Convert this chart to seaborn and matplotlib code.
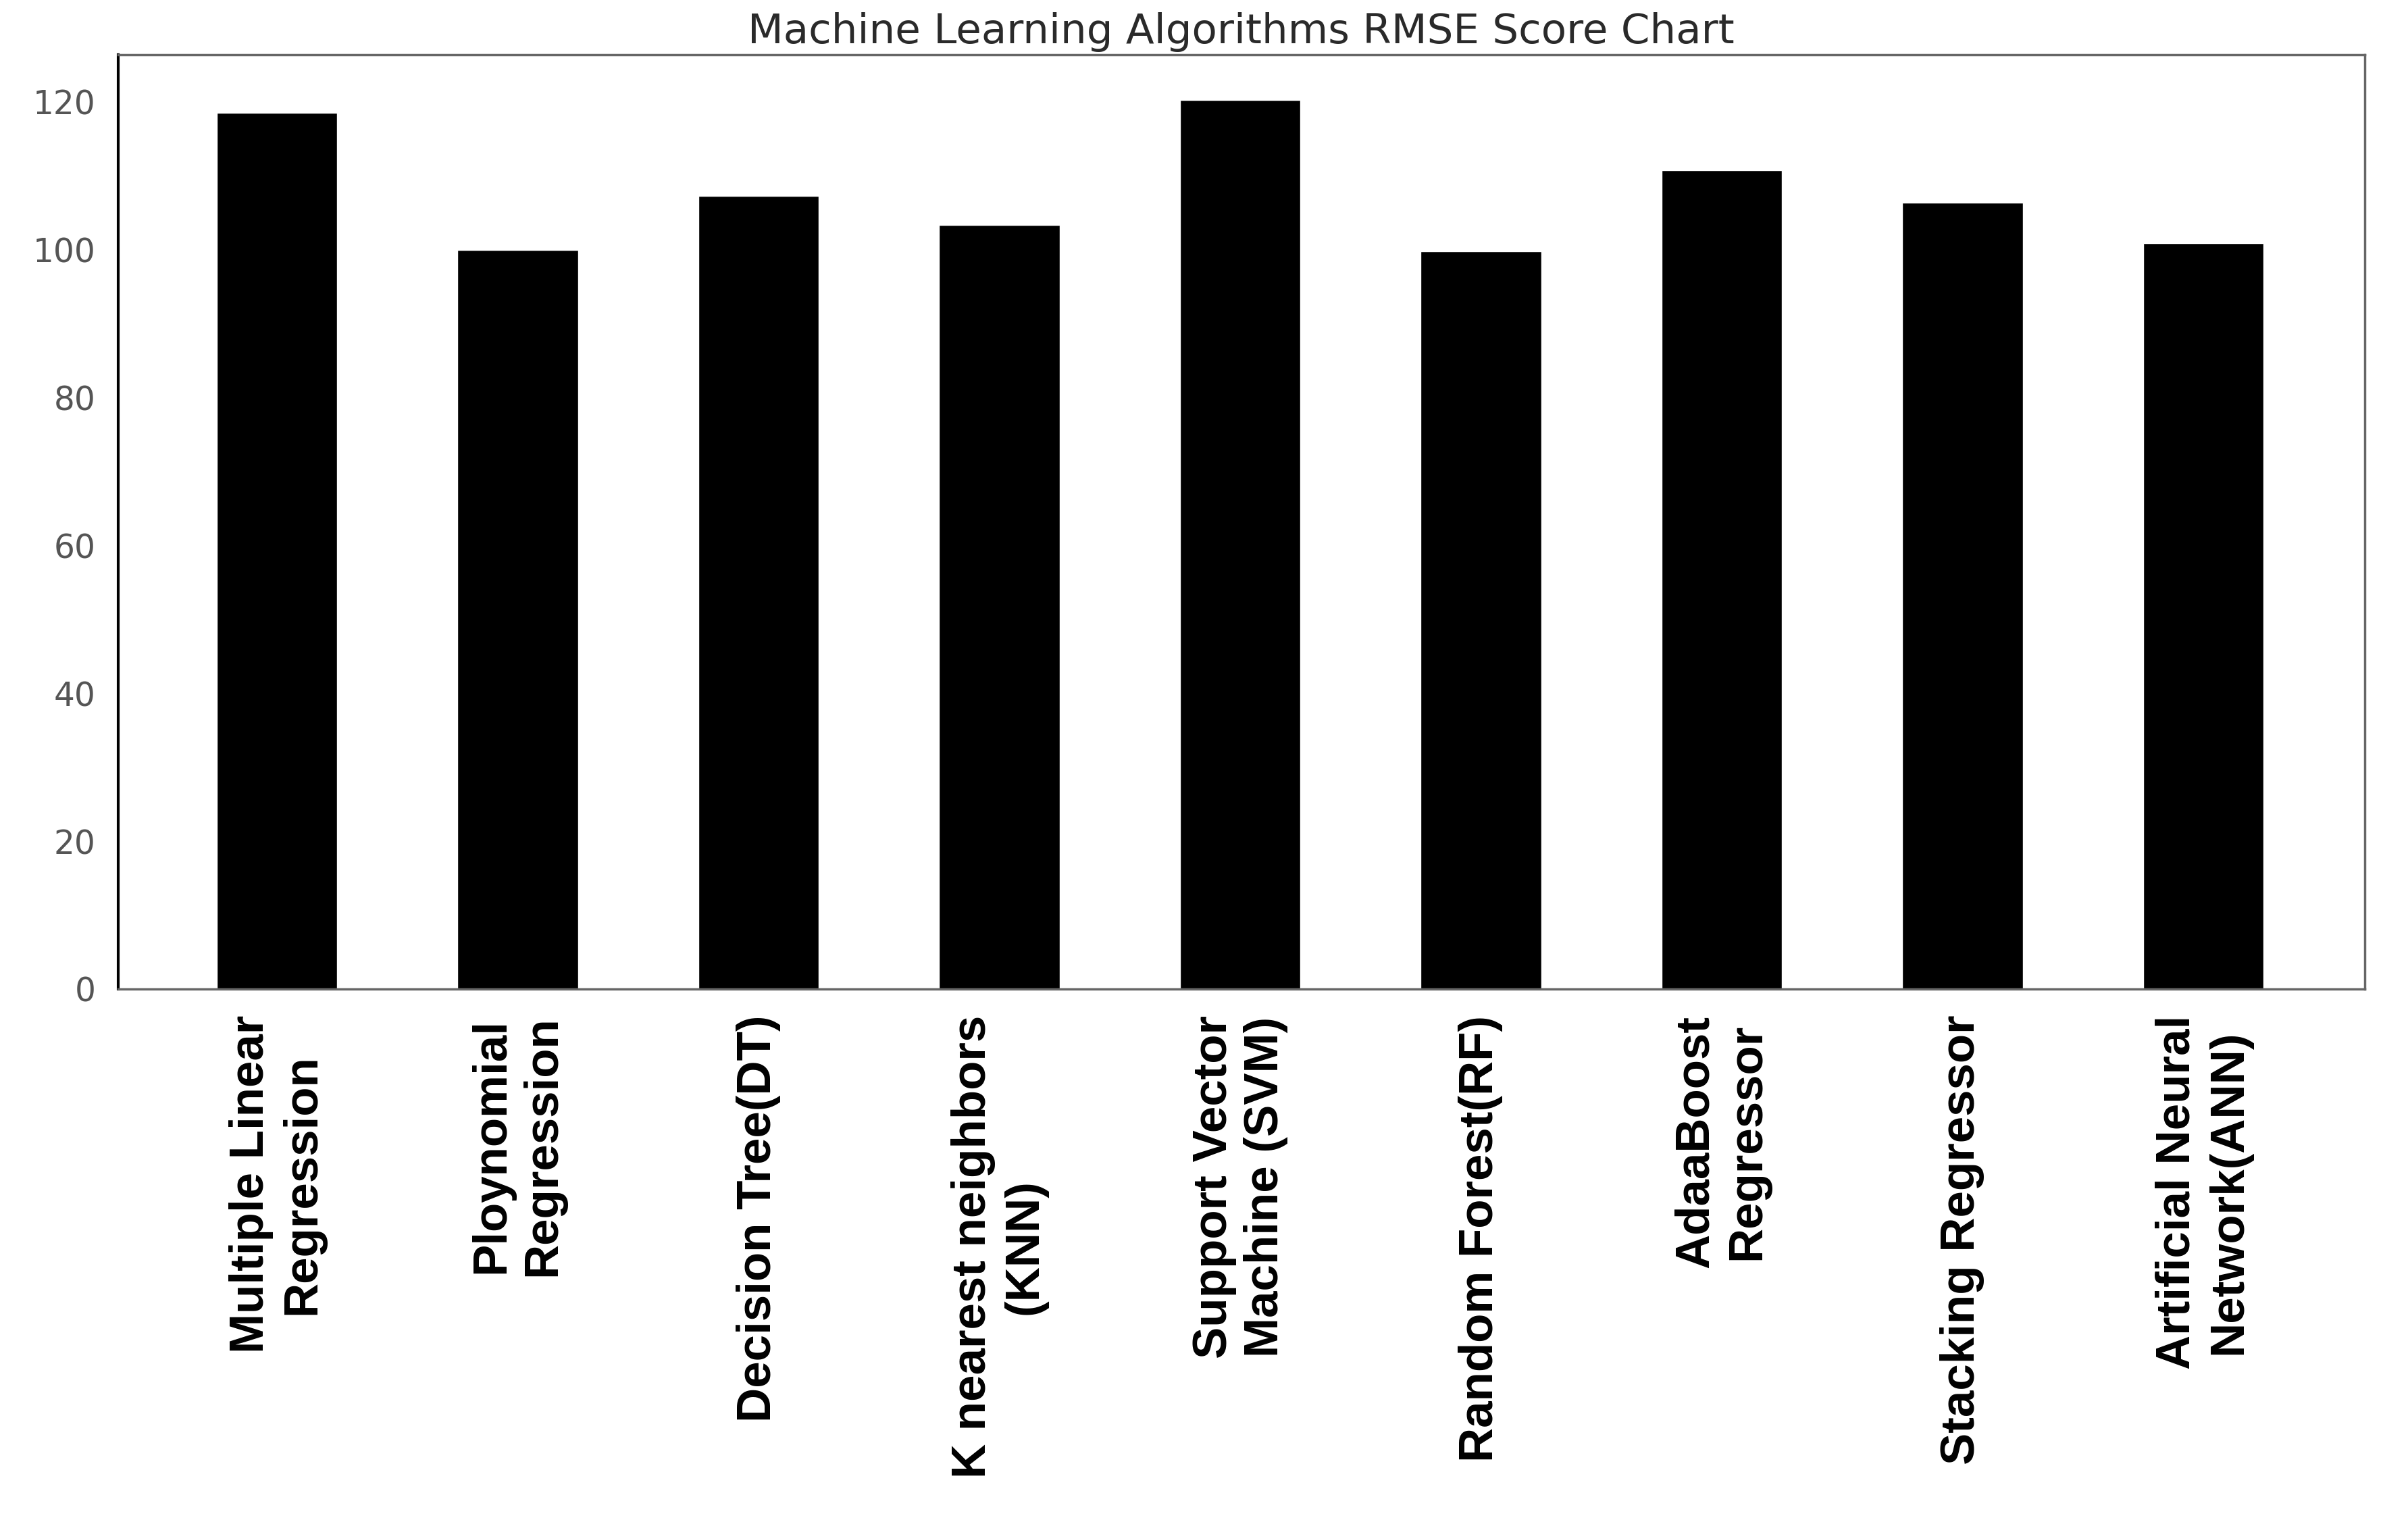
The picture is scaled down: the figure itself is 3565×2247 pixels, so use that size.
import matplotlib
matplotlib.use("Agg")
import matplotlib.pyplot as plt
import seaborn as sns

# Algorithms and their RMSE scores
algorithms = [
    "Multiple Linear\nRegression",
    "Ploynomial\nRegression",
    "Decision Tree(DT)",
    "K nearest neighbors\n(KNN)",
    "Support Vector\nMachine (SVM)",
    "Random Forest(RF)",
    "AdaaBoost\nRegressor",
    "Stacking Regressor",
    "Artificial Neural\nNetwork(ANN)",
]
rmse_scores = [118.5, 100.0, 107.3, 103.4, 120.3, 99.8, 110.8, 106.4, 100.9]
y_ticks = [0, 20, 40, 60, 80, 100, 120]

sns.set_style("white")

fig = plt.figure(figsize=(35.65, 22.47), dpi=100)
ax = fig.add_axes([0.049, 0.3485, 0.933, 0.6155])

sns.barplot(x=algorithms, y=rmse_scores, color="black", saturation=1,
            width=0.5, ax=ax)

ax.set_xlim(-0.66, 8.67)
ax.set_ylim(0, 126.4)
ax.set_yticks(y_ticks)
ax.set_yticklabels([str(t) for t in y_ticks], fontsize=35, color="#555555")

# x labels: bold, rotated, centred lines
ax.set_xticks(range(len(algorithms)))
ax.set_xticklabels(algorithms, rotation=90, fontsize=51, fontweight="bold",
                   family="Liberation Sans", color="black",
                   multialignment="center")

ax.tick_params(axis="both", direction="out", length=10, width=2,
               colors="#666666")
ax.tick_params(axis="x", labelcolor="black", pad=18)
ax.tick_params(axis="y", labelcolor="#555555", pad=14)

for side in ["top", "right", "bottom"]:
    ax.spines[side].set_color("#666666")
    ax.spines[side].set_linewidth(2.5)
ax.spines["left"].set_color("black")
ax.spines["left"].set_linewidth(3)

ax.set_title("Machine Learning Algorithms RMSE Score Chart", fontsize=44,
             color="#2a2a2a", pad=12)

fig.savefig("out.png", dpi=100)
